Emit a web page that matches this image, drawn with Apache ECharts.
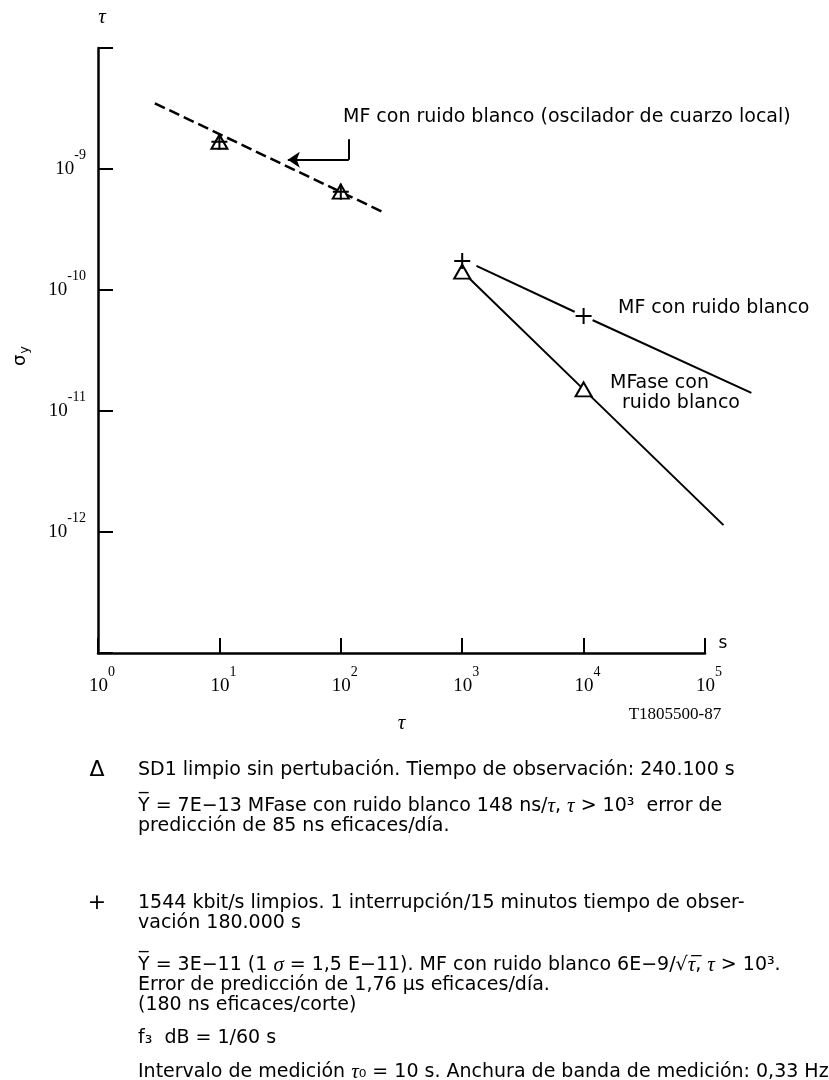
<!DOCTYPE html>
<html><head><meta charset="utf-8">
<script src="https://cdn.jsdelivr.net/npm/echarts@6/dist/echarts.min.js"></script>
<style>html,body{margin:0;padding:0;background:#fff}#c{width:829px;height:1080px}</style>
</head><body><div id="c"></div>
<script>
// ---- data (tau in s, sigma_y) ----
const xExps = [0, 1, 2, 3, 4, 5];
const yLabelExps = [-9, -10, -11, -12];
const quartzLine = [[2.94, 3.49e-9], [234, 4.3e-10]];          // dashed, local quartz oscillator
const fmLine = [[1310, 1.58e-10], [1e4, 6.1e-11], [2.41e5, 1.41e-11]]; // white FM
const pmLine = [[1000, 1.42e-10], [1e4, 1.51e-11], [1.42e5, 1.14e-12]]; // white PM
const sd1Points = [[10, 1.68e-9], [100, 6.5e-10], [1000, 1.42e-10], [1e4, 1.51e-11]];
const t1Points = [[10, 1.68e-9], [100, 6.5e-10], [1000, 1.74e-10], [1e4, 6.1e-11]];
const gapPoints = [[1e4, 6.1e-11]];
const arrowStem = [[116.4, 1.76e-9], [116.4, 1.19e-9]];
const arrowShaft = [[116.4, 1.19e-9], [36.6, 1.19e-9]];

const SANS = 'DejaVu Sans';
const SERIF = 'Liberation Serif';
const chart = echarts.init(document.getElementById('c'), null, {renderer: 'canvas'});

const expRich = {
  b: {fontFamily: SERIF, fontSize: 19, lineHeight: 20, color: '#000'},
  e: {fontFamily: SERIF, fontSize: 14, lineHeight: 14, padding: [0, 0, 28, 0], color: '#000'}
};
const expOf = v => Math.round(Math.log10(v));

const bottomText = [
  {x: 97, y: 770, t: '{s|Δ}', sym: true},
  {x: 138, y: 770, t: '{n|SD1 limpio sin pertubación. Tiempo de observación: 240.100 s}'},
  {x: 138, y: 806, t: '{n|Y\u0305 = 7E−13 MFase con ruido blanco 148 ns/}{i|τ}{n|, }{i|τ}{n| > 10³  error de}'},
  {x: 138, y: 826, t: '{n|predicción de 85 ns eficaces/día.}'},
  {x: 97, y: 903, t: '{s|+}', sym: true},
  {x: 138, y: 903, t: '{n|1544 kbit/s limpios. 1 interrupción/15 minutos tiempo de obser-}'},
  {x: 138, y: 923, t: '{n|vación 180.000 s}'},
  {x: 138, y: 965, t: '{n|Y\u0305 = 3E−11 (1 }{i|σ}{n| = 1,5 E−11). MF con ruido blanco 6E−9/√}{i|τ\u0305}{n|, }{i|τ}{n| > 10³.}'},
  {x: 138, y: 985, t: '{n|Error de predicción de 1,76 μs eficaces/día.}'},
  {x: 138, y: 1005, t: '{n|(180 ns eficaces/corte)}'},
  {x: 138, y: 1038, t: '{n|f₃  dB = 1/60 s}'},
  {x: 138, y: 1072, t: '{n|Intervalo de medición }{i|τ}{n|₀ = 10 s. Anchura de banda de medición: 0,33 Hz}'}
];
const bodyRich = {
  n: {fontFamily: SANS, fontSize: 19, fill: '#000'},
  i: {fontFamily: SERIF, fontStyle: 'italic', fontSize: 21, fill: '#000'},
  s: {fontFamily: SANS, fontSize: 22, fill: '#000'}
};

const graphics = [
  {type: 'text', x: 102, y: 17, style: {text: 'τ', font: 'italic 21px "Liberation Serif"', fill: '#000', align: 'center', verticalAlign: 'middle'}},
  {type: 'text', x: 20, y: 356, rotation: Math.PI / 2, style: {text: '{a|σ}{s|y}', align: 'center', verticalAlign: 'middle',
    rich: {a: {fontFamily: SANS, fontSize: 18, fill: '#000'}, s: {fontFamily: SANS, fontSize: 13, fill: '#000', padding: [10, 0, 0, 1]}}}},
  {type: 'text', x: 723, y: 644, style: {text: 's', font: '17px "DejaVu Sans"', fill: '#000', align: 'center', verticalAlign: 'middle'}},
  {type: 'text', x: 675, y: 715, style: {text: 'T1805500-87', font: '17px "Liberation Serif"', fill: '#000', align: 'center', verticalAlign: 'middle'}},
  {type: 'text', x: 343, y: 117, style: {text: 'MF con ruido blanco (oscilador de cuarzo local)', font: '19px "DejaVu Sans"', fill: '#000', align: 'left', verticalAlign: 'middle'}},
  {type: 'text', x: 618, y: 308, style: {text: 'MF con ruido blanco', font: '19px "DejaVu Sans"', fill: '#000', align: 'left', verticalAlign: 'middle'}},
  {type: 'text', x: 610, y: 383, style: {text: 'MFase con', font: '19px "DejaVu Sans"', fill: '#000', align: 'left', verticalAlign: 'middle'}},
  {type: 'text', x: 622, y: 403, style: {text: 'ruido blanco', font: '19px "DejaVu Sans"', fill: '#000', align: 'left', verticalAlign: 'middle'}}
].concat(bottomText.map(d => ({
  type: 'text', x: d.x, y: d.y,
  style: {text: d.t, align: d.sym ? 'center' : 'left', verticalAlign: 'middle', rich: bodyRich}
})));

const plusPath = 'path://M7,0H9V7H16V9H9V16H7V9H0V7H7Z';
// grid 0 carries the visible axes (10^0 .. 10^5); grid 1 has the same scale per decade
// but extends half a decade further right so the fitted lines may run past 10^5.
const GL = 98, GR = 124, GT = 48, GB = 427, W = 829;
const decadePx = (W - GL - GR) / 5;
const extDecades = 5.5;
const gridExtRight = W - GL - decadePx * extDecades;

const onData = {xAxisIndex: 1, yAxisIndex: 1};

chart.setOption({
  animation: false,
  backgroundColor: '#fff',
  grid: [
    {left: GL, right: GR, top: GT, bottom: GB, containLabel: false},
    {left: GL, right: gridExtRight, top: GT, bottom: GB, containLabel: false}
  ],
  xAxis: [{
    gridIndex: 0, type: 'log', logBase: 10, min: 1, max: 1e5,
    name: 'τ', nameLocation: 'middle', nameGap: 60,
    nameTextStyle: {fontFamily: SERIF, fontStyle: 'italic', fontSize: 21, color: '#000'},
    axisLine: {onZero: false, lineStyle: {color: '#000', width: 2.5}},
    axisTick: {inside: true, length: 15, lineStyle: {color: '#000', width: 2}},
    splitLine: {show: false}, minorTick: {show: false},
    axisLabel: {margin: 23, padding: [0, 0, 0, 8], rich: expRich,
      formatter: v => { const e = expOf(v); return xExps.indexOf(e) >= 0 ? '{b|10}{e|' + e + '}' : ''; }}
  }, {
    gridIndex: 1, type: 'log', logBase: 10, min: 1, max: Math.pow(10, extDecades), show: false,
    splitLine: {show: false}
  }],
  yAxis: [{
    gridIndex: 0, type: 'log', logBase: 10, min: 1e-13, max: 1e-8,
    axisLine: {onZero: false, lineStyle: {color: '#000', width: 2.5}},
    axisTick: {inside: true, length: 15, lineStyle: {color: '#000', width: 2}},
    splitLine: {show: false}, minorTick: {show: false},
    axisLabel: {margin: 12, rich: expRich,
      formatter: v => { const e = expOf(v); return yLabelExps.indexOf(e) >= 0 ? '{b|10}{e|' + e + '}' : ''; }}
  }, {
    gridIndex: 1, type: 'log', logBase: 10, min: 1e-13, max: 1e-8, show: false,
    splitLine: {show: false}
  }],
  graphic: graphics,
  series: [
    Object.assign({type: 'line', data: quartzLine, symbol: 'none', silent: true, z: 2,
      lineStyle: {color: '#000', width: 2.5, type: [11, 5]}}, onData),
    Object.assign({type: 'line', data: fmLine, symbol: 'none', silent: true, z: 2,
      lineStyle: {color: '#000', width: 2}}, onData),
    Object.assign({type: 'line', data: pmLine, symbol: 'none', silent: true, z: 2,
      lineStyle: {color: '#000', width: 2}}, onData),
    Object.assign({type: 'scatter', data: gapPoints, symbol: 'circle', symbolSize: 20, silent: true, z: 3,
      itemStyle: {color: '#fff', opacity: 1}}, onData),
    Object.assign({type: 'scatter', data: sd1Points, symbol: 'triangle', symbolSize: [16, 14], silent: true, z: 4,
      itemStyle: {color: '#fff', borderColor: '#000', borderWidth: 2, opacity: 1}}, onData),
    Object.assign({type: 'scatter', data: t1Points, symbol: plusPath, symbolSize: 16, silent: true, z: 5,
      itemStyle: {color: '#000', opacity: 1}}, onData),
    Object.assign({type: 'lines', coordinateSystem: 'cartesian2d', silent: true, z: 3,
      data: [{coords: arrowStem}], symbol: ['none', 'none'],
      lineStyle: {color: '#000', width: 2, opacity: 1}}, onData),
    Object.assign({type: 'lines', coordinateSystem: 'cartesian2d', silent: true, z: 3,
      data: [{coords: arrowShaft}], symbol: ['none', 'arrow'], symbolSize: 12,
      lineStyle: {color: '#000', width: 2, opacity: 1}}, onData)
  ]
});
</script></body></html>
